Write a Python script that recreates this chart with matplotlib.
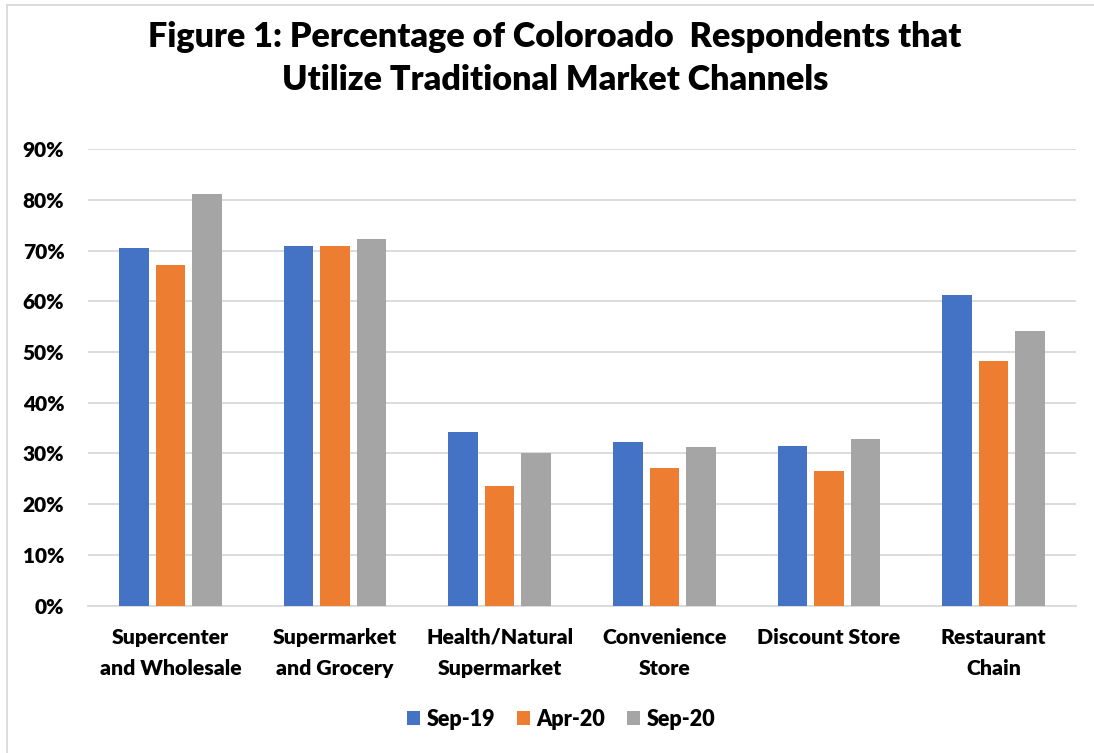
import matplotlib
matplotlib.use("Agg")
import matplotlib.pyplot as plt
from matplotlib.lines import Line2D
from matplotlib.patches import Patch
from matplotlib.ticker import MultipleLocator, PercentFormatter
import numpy as np

plt.rcParams["font.family"] = ["Lato", "DejaVu Sans"]
WEIGHT = "heavy"
plt.rcParams["font.weight"] = WEIGHT

categories = [
    "Supercenter\nand Wholesale",
    "Supermarket\nand Grocery",
    "Health/Natural\nSupermarket",
    "Convenience\nStore",
    "Discount Store",
    "Restaurant\nChain",
]
series_names = ["Sep-19", "Apr-20", "Sep-20"]
sep19 = [70.5, 71.0, 34.2, 32.2, 31.4, 61.2]
apr20 = [67.2, 71.0, 23.6, 27.1, 26.5, 48.3]
sep20 = [81.2, 72.4, 30.1, 31.2, 32.8, 54.2]
colors = ["#4472C4", "#ED7D31", "#A5A5A5"]

title_lines = [
    "Figure 1: Percentage of Coloroado  Respondents that",
    "Utilize Traditional Market Channels",
]

W, H = 1094, 753
fig = plt.figure(figsize=(W / 100, H / 100), dpi=100)
fig.patch.set_facecolor("white")

# plot area in pixel coordinates
left, right, top, bottom = 88, 1076, 149.3, 605.5
ax = fig.add_axes([left / W, 1 - bottom / H, (right - left) / W, (bottom - top) / H])

x = np.arange(len(categories))
bar_w = 0.18
step = 0.222
for i, (vals, c, name) in enumerate(zip([sep19, apr20, sep20], colors, series_names)):
    ax.bar(x + (i - 1) * step, vals, width=bar_w, color=c, label=name, zorder=3)

ax.set_xlim(-0.5, len(categories) - 0.5)
ax.set_ylim(0, 90)
ax.yaxis.set_major_locator(MultipleLocator(10))
ax.yaxis.set_major_formatter(PercentFormatter(decimals=0))
ax.grid(axis="y", color="#D9D9D9", linewidth=1.3, zorder=0)
for s in ["top", "right", "left"]:
    ax.spines[s].set_visible(False)
ax.spines["bottom"].set_color("#D9D9D9")
ax.spines["bottom"].set_linewidth(1.3)
ax.tick_params(axis="both", length=0)
ax.tick_params(axis="y", pad=17, labelsize=15)
ax.tick_params(axis="x", pad=16, labelsize=15.3)
ax.set_xticks(x)
ax.set_xticklabels(categories, linespacing=1.75, fontweight=WEIGHT)
for t in ax.get_yticklabels():
    t.set_fontweight(WEIGHT)

# title, sized to the chart width
fig.canvas.draw()
renderer = fig.canvas.get_renderer()
tx = 555 / W
t1 = fig.text(tx, 1 - 37 / H, title_lines[0], ha="center", va="center",
              fontsize=20, fontweight=WEIGHT)
bb = t1.get_window_extent(renderer)
fs = 20 * 814 / bb.width
t1.set_fontsize(fs)
fig.text(tx, 1 - 80 / H, title_lines[1], ha="center", va="center",
         fontsize=fs, fontweight=WEIGHT)

# legend at the bottom
handles = [Patch(facecolor=c, edgecolor="none") for c in colors]
fig.legend(handles, series_names, loc="center", bbox_to_anchor=(561 / W, 1 - 719 / H),
           ncol=3, frameon=False, handlelength=0.62, handleheight=0.62,
           handletextpad=0.3, columnspacing=1.0, borderaxespad=0,
           prop={"weight": WEIGHT, "size": 15.5})

# chart frame (top and left edges)
fig.add_artist(Line2D([7 / W, 1], [1 - 5 / H, 1 - 5 / H], transform=fig.transFigure,
                      color="#D9D9D9", linewidth=1.3))
fig.add_artist(Line2D([7 / W, 7 / W], [0, 1 - 5 / H], transform=fig.transFigure,
                      color="#D9D9D9", linewidth=1.3))

fig.savefig("out.png", dpi=100, facecolor="white")
